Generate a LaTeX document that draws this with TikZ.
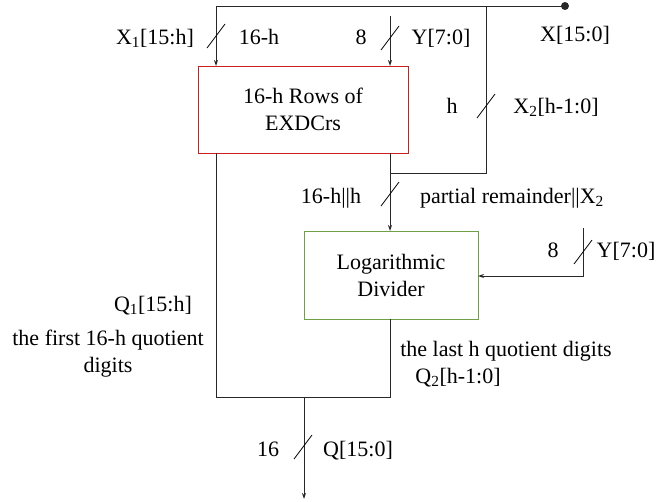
\documentclass[tikz,border=0pt]{standalone}
\usepackage{fontspec}
\setmainfont{Liberation Serif}
\newfontfamily\tnr{Liberation Serif}
\usetikzlibrary{arrows.meta}
\definecolor{boxred}{RGB}{204,30,30}
\definecolor{boxgreen}{RGB}{112,160,70}
\definecolor{wire}{RGB}{40,40,40}
\tikzset{
  wireline/.style={draw=wire, line width=1pt},
  arr/.style={wireline, -{Stealth[length=6pt,width=4pt]}},
  lbl/.style={inner sep=0pt, anchor=base, font=\tnr\fontsize{22}{27}\selectfont},
  blk/.style={draw, line width=1pt, minimum width=#1, align=center, font=\tnr\fontsize{22}{27}\selectfont, inner sep=0pt},
  slashmark/.style={draw=black, line width=0.8pt},
}
\begin{document}
\begin{tikzpicture}[x=1pt,y=-1pt]
\useasboundingbox (0,0) rectangle (663,501);
% blocks
\node[blk=210pt, draw=boxred, minimum height=87pt] (box1) at (303,109.5) {16-h Rows of\\EXDCrs};
\node[blk=174pt, draw=boxgreen, minimum height=88pt] (div) at (391,275) {Logarithmic\\Divider};
% coordinates
\coordinate (dot) at (565,6);
\coordinate (tl) at (216,6);
\coordinate (tj) at (486,6);
\coordinate (b1inA) at (216,66);
\coordinate (yst) at (390,16);
\coordinate (b1inB) at (390,66);
\coordinate (b1outR) at (390,153);
\coordinate (b1outL) at (216,153);
\coordinate (j2) at (486,173);
\coordinate (j1) at (390,173);
\coordinate (divin) at (390,231);
\coordinate (ytop) at (583,228);
\coordinate (ycor) at (583,276);
\coordinate (divr) at (478,276);
\coordinate (divout) at (390,319);
\coordinate (bl) at (216,397);
\coordinate (br) at (390,397);
\coordinate (outs) at (304,397);
\coordinate (oute) at (304,499);
% wires
\fill[wire] (dot) circle (4pt);
\draw[arr] (dot) -- (tl) -- (b1inA);
\draw[arr] (yst) -- (b1inB);
\draw[wireline] (tj) -- (j2) -- (j1);
\draw[arr] (b1outR) -- (divin);
\draw[arr] (ytop) -- (ycor) -- (divr);
\draw[wireline] (b1outL) -- (bl) -- (br) -- (divout);
\draw[arr] (outs) -- (oute);
% bus slashes
\foreach \c in {(216,36),(390,38),(486,106),(390,194),(583,252),(303,447)}
  \draw[slashmark] \c ++(-9,12) -- ++(18,-24);
% labels
\node[lbl] (lx1) at (155,44) {X\textsubscript{1}[15:h]};
\node[lbl] (l16h) at (259,44) {16-h};
\node[lbl] (l8a) at (361,44) {8};
\node[lbl] (ly1) at (441,44) {Y[7:0]};
\node[lbl] (lx) at (575,41) {X[15:0]};
\node[lbl] (lh) at (452,113) {h};
\node[lbl] (lx2) at (556,113) {X\textsubscript{2}[h-1:0]};
\node[lbl] (l16hh) at (331,203) {16-h||h};
\node[lbl] (lpr) at (512,203) {partial remainder||X\textsubscript{2}};
\node[lbl] (l8b) at (553,257) {8};
\node[lbl] (ly2) at (626,257) {Y[7:0]};
\node[lbl] (lq1) at (153,311) {Q\textsubscript{1}[15:h]};
\node[lbl] (lf1) at (108,345) {the first 16-h quotient};
\node[lbl] (lf2) at (108,372) {digits};
\node[lbl] (ll1) at (506,356) {the last h quotient digits};
\node[lbl] (lq2) at (458,383) {Q\textsubscript{2}[h-1:0]};
\node[lbl] (l16) at (268,456) {16};
\node[lbl] (lq) at (358,456) {Q[15:0]};
\end{tikzpicture}
\end{document}
